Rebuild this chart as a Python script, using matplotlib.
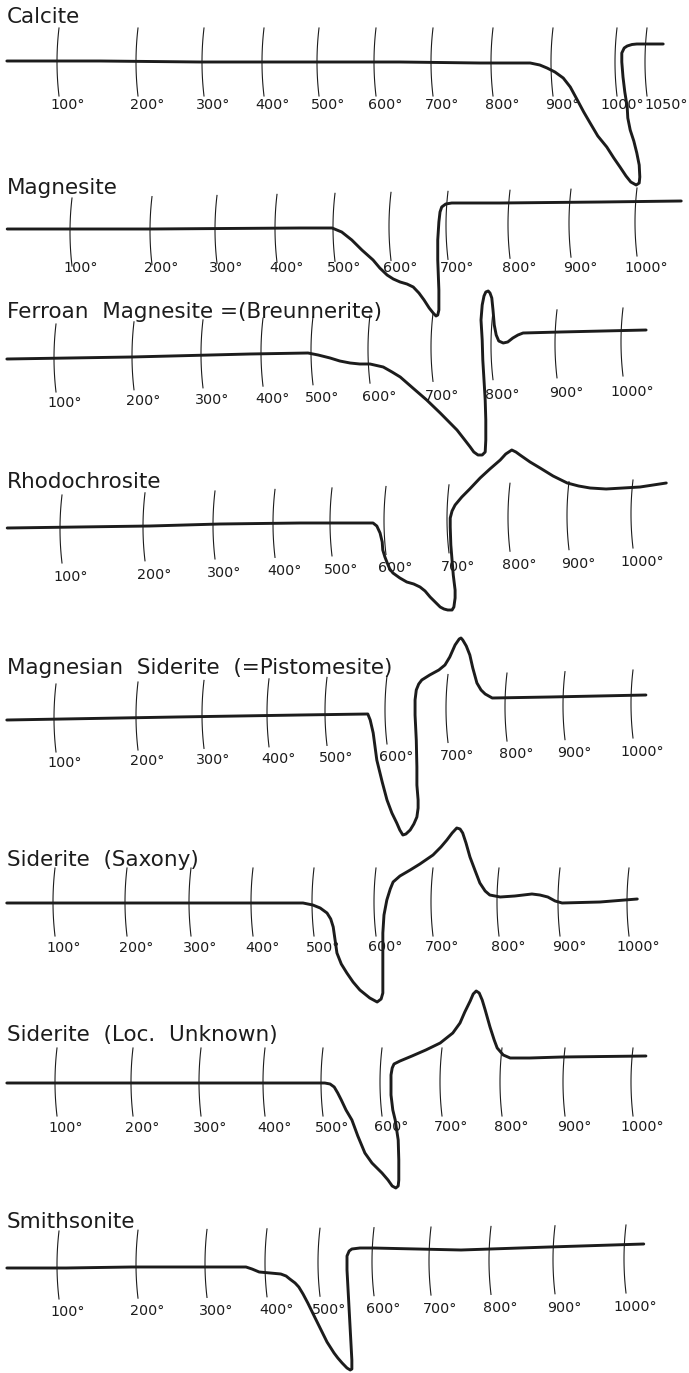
import numpy as np
import matplotlib
matplotlib.use("Agg")
import matplotlib.pyplot as plt

W, H, DPI = 689, 1373, 100
INK = "#1c1c1c"

# ---------------- data ----------------
names = ["Calcite", "Magnesite", "Ferroan  Magnesite =(Breunnerite)", "Rhodochrosite",
         "Magnesian  Siderite  (=Pistomesite)", "Siderite  (Saxony)",
         "Siderite  (Loc.  Unknown)", "Smithsonite"]

tick_T = [100, 200, 300, 400, 500, 600, 700, 800, 900, 1000]
calcite_tick_T = tick_T + [1050]

# hand-drawn temperature scale of each curve (horizontal position of each tick)
calcite_tick_px = [59, 138, 204, 264, 319, 376, 433, 493, 553, 617, 647]
magnesite_tick_px = [72, 152, 217, 277, 335, 391, 448, 510, 571, 637]
ferroan_tick_px = [56, 134, 203, 263, 313, 370, 433, 493, 557, 623]
rhodo_tick_px = [62, 145, 215, 275, 332, 386, 449, 510, 569, 633]
mgsid_tick_px = [56, 138, 204, 269, 327, 387, 448, 507, 565, 633]
saxony_tick_px = [55, 127, 191, 253, 314, 376, 433, 499, 560, 629]
locunk_tick_px = [57, 133, 201, 265, 323, 382, 442, 502, 565, 633]
smith_tick_px = [59, 138, 207, 267, 320, 374, 431, 491, 555, 626]

# DTA traces: temperature (deg C) and deflection (arbitrary units, + = exothermic)
calcite_T = [34, 152, 294, 465, 642, 778, 862, 878, 890, 903, 916, 927, 938, 948, 958, 970,
             984, 995, 1005, 1015, 1023, 1032, 1037, 1038, 1037, 1033, 1028, 1022, 1018,
             1017, 1013, 1010, 1008, 1008, 1012, 1017, 1025, 1033, 1077]
calcite_dy = [1, 1, 0, 0, 0, -1, -1, -3, -6, -10, -16, -25, -38, -50, -61, -74,
              -85, -96, -105, -114, -120, -123, -121, -115, -103, -91, -79, -68, -56,
              -45, -30, -15, 0, 9, 14, 16, 17.5, 18, 18]

magnesite_T = [19, 198, 440, 495, 512, 530, 548, 568, 580, 593, 604, 616, 628, 639, 649,
               658, 667, 674, 679, 682, 684, 684, 682, 682, 684, 686, 689, 696, 706, 784,
               946, 1067]
magnesite_dy = [0, 0, 1, 1, -3, -11, -21, -31, -39, -46, -50, -53, -55, -58, -64,
                -71, -79, -84, -87, -86, -81, -61, -31, -11, 7, 17, 22, 25, 26, 26,
                27, 28]

ferroan_T = [37, 197, 378, 490, 509, 530, 547, 565, 582, 600, 621, 635, 648, 668, 690, 712,
             740, 753, 762, 768, 775, 782, 787, 788, 788, 787, 785, 783, 782, 780, 782,
             785, 788, 792, 795, 798, 800, 802, 805, 809, 816, 823, 831, 839, 847, 905, 1035]
ferroan_dy = [-2, 0, 3, 4, 2, -1, -4, -6, -7, -7, -10, -15, -20, -31, -43, -56,
              -73, -83, -90, -95, -98, -98, -95, -83, -63, -43, -23, -3, 17, 37, 52,
              61, 65, 66, 64, 59, 47, 32, 22, 16, 14, 15, 19, 22, 24, 25, 27]

rhodo_T = [34, 207, 308, 444, 576, 583, 589, 593, 594, 598, 602, 606, 611, 622, 633, 644,
           654, 662, 670, 678, 686, 692, 698, 705, 708, 710, 710, 707, 705, 703, 702, 702,
           705, 710, 721, 734, 751, 767, 784, 793, 803, 810, 817, 834, 851, 873, 897, 915,
           933, 958, 1011, 1052]
rhodo_dy = [-2, 0, 2, 3, 3, 0, -7, -16, -24, -31, -37, -43, -47, -52, -56, -58,
            -61, -65, -71, -76, -81, -83, -84, -84, -81, -72, -64, -49, -34, -19, -1, 8,
            15, 21, 29, 37, 48, 57, 66, 72, 76, 74, 71, 64, 58, 50, 43, 40,
            38, 37, 39, 43]

mgsid_T = [40, 258, 453, 568, 572, 577, 583, 592, 600, 608, 616, 621, 626, 631, 638, 644,
           649, 651, 651, 649, 649, 648, 646, 646, 648, 652, 657, 670, 685, 695, 703, 712,
           719, 722, 725, 731, 737, 742, 749, 756, 763, 775, 874, 1019]
mgsid_dy = [-4, -1, 1, 2, -4, -17, -44, -66, -84, -97, -107, -114, -119, -118, -114, -108,
            -101, -92, -84, -69, -51, -24, 1, 16, 26, 32, 36, 41, 46, 51, 59, 71,
            77, 78, 76, 70, 61, 48, 33, 26, 22, 18, 19, 21]

saxony_T = [33, 236, 482, 498, 510, 521, 527, 531, 534, 537, 544, 553, 563, 574, 590, 602,
            609, 612, 612, 612, 612, 614, 619, 625, 630, 642, 660, 677, 700, 712, 721, 729,
            736, 741, 745, 750, 756, 764, 771, 779, 786, 802, 826, 854, 867, 880, 892, 903,
            958, 1012]
saxony_dy = [0, 0, 0, -2, -5, -10, -16, -24, -37, -50, -61, -70, -79, -87, -95, -99,
             -96, -90, -72, -57, -30, -12, 3, 14, 21, 27, 33, 39, 48, 56, 63, 70,
             75, 74, 70, 60, 46, 32, 20, 12, 8, 6, 7, 9, 8, 6, 2, 0,
             1, 4]

locunk_T = [34, 299, 503, 512, 519, 525, 531, 539, 549, 559, 571, 583, 600, 610, 617, 623,
            627, 628, 628, 627, 622, 618, 615, 615, 617, 620, 630, 650, 673, 697, 718, 730,
            738, 747, 752, 757, 762, 767, 772, 780, 787, 792, 802, 813, 844, 895, 1019]
locunk_dy = [0, 0, 0, -1, -4, -10, -17, -27, -37, -53, -70, -80, -90, -97, -103, -105,
             -103, -97, -77, -57, -37, -27, -12, 8, 15, 19, 22, 27, 33, 40, 50, 60,
             71, 82, 89, 92, 90, 83, 73, 56, 43, 35, 28, 25, 25, 26, 27]

smith_T = [34, 109, 192, 365, 375, 387, 406, 426, 436, 443, 453, 460, 468, 477, 489, 502,
           513, 526, 533, 541, 550, 556, 559, 559, 557, 554, 552, 550, 550, 554, 559, 574,
           598, 750, 891, 1025]
smith_dy = [0, 0, 1, 1, -1, -4, -5, -6, -8, -11, -15, -19, -26, -35, -48, -62,
            -74, -85, -90, -95, -100, -102, -101, -92, -72, -42, -22, -2, 12, 17, 19, 20,
            20, 18, 21, 24]

# ---------------- layout (pixels) ----------------
baseline_px = [62, 229, 357, 526, 716, 903, 1083, 1268]
title_px = [17, 188, 312, 482, 668, 860, 1035, 1222]
label_px_lr = [(105, 105), (268, 268), (403, 392), (577, 562), (763, 752), (948, 947),
               (1128, 1127), (1312, 1307)]
tickc_lr = [(0, 0), (-3, 7), (-1, 15), (-3, 12), (-2, 12), (1, 1), (1, 1), (3, 9)]
calcite_label_dx = [9, 9, 9, 9, 9, 9, 9, 9, 9, 5, 19]

panels = [
    (calcite_tick_T, calcite_tick_px, calcite_T, calcite_dy),
    (tick_T, magnesite_tick_px, magnesite_T, magnesite_dy),
    (tick_T, ferroan_tick_px, ferroan_T, ferroan_dy),
    (tick_T, rhodo_tick_px, rhodo_T, rhodo_dy),
    (tick_T, mgsid_tick_px, mgsid_T, mgsid_dy),
    (tick_T, saxony_tick_px, saxony_T, saxony_dy),
    (tick_T, locunk_tick_px, locunk_T, locunk_dy),
    (tick_T, smith_tick_px, smith_T, smith_dy),
]


def make_scale(tt, px):
    tt = np.asarray(tt, float)
    px = np.asarray(px, float)
    s0 = (px[1] - px[0]) / (tt[1] - tt[0])
    s1 = (px[-1] - px[-2]) / (tt[-1] - tt[-2])

    def fwd(t):
        t = np.asarray(t, float)
        y = np.interp(t, tt, px)
        y = np.where(t < tt[0], px[0] + (t - tt[0]) * s0, y)
        y = np.where(t > tt[-1], px[-1] + (t - tt[-1]) * s1, y)
        return y

    def inv(p):
        p = np.asarray(p, float)
        y = np.interp(p, px, tt)
        y = np.where(p < px[0], tt[0] + (p - px[0]) / s0, y)
        y = np.where(p > px[-1], tt[-1] + (p - px[-1]) / s1, y)
        return y

    return fwd, inv


fig = plt.figure(figsize=(W / DPI, H / DPI), dpi=DPI)
fig.patch.set_facecolor("white")
SPAN = 170
HALF = 34
BOW = -2.0

for i, (tT, tpx, cT, cdy) in enumerate(panels):
    base = baseline_px[i]
    ax = fig.add_axes([0, 1 - (base + SPAN) / H, 1, 2 * SPAN / H])
    fwd, inv = make_scale(tT, tpx)
    ax.set_xscale("function", functions=(fwd, inv))
    ax.set_xlim(float(inv(0)), float(inv(W)))
    ax.set_ylim(-SPAN, SPAN)
    ax.axis("off")
    ax.patch.set_visible(False)

    # trace
    ax.plot(cT, cdy, color=INK, lw=2.1, solid_joinstyle="round",
            solid_capstyle="round", clip_on=False, zorder=3)

    # hand-drawn tick arcs and labels
    cl, cr = tickc_lr[i]
    ll, lr = label_px_lr[i]
    p0, p1 = tpx[0], tpx[-1]
    s = np.linspace(-1, 1, 30)
    dxs = calcite_label_dx if i == 0 else [9] * len(tT)
    for T, p, dx in zip(tT, tpx, dxs):
        c = np.interp(p, [p0, p1], [cl, cr])
        ys = c + HALF * s
        xs = inv(p + BOW * (1 - s ** 2))
        ax.plot(xs, ys, color=INK, lw=0.8, clip_on=False, zorder=2)
        ly = np.interp(p, [p0, p1], [ll, lr])
        ax.text(float(inv(p + dx)), base - ly, f"{T}°", ha="center", va="center",
                fontsize=10.3, color=INK, clip_on=False, zorder=4)

    ax.text(7 / W, base - title_px[i], names[i], transform=ax.get_yaxis_transform(),
            ha="left", va="center", fontsize=15.5, color=INK, clip_on=False)

fig.savefig("out.png", dpi=DPI, facecolor="white")
